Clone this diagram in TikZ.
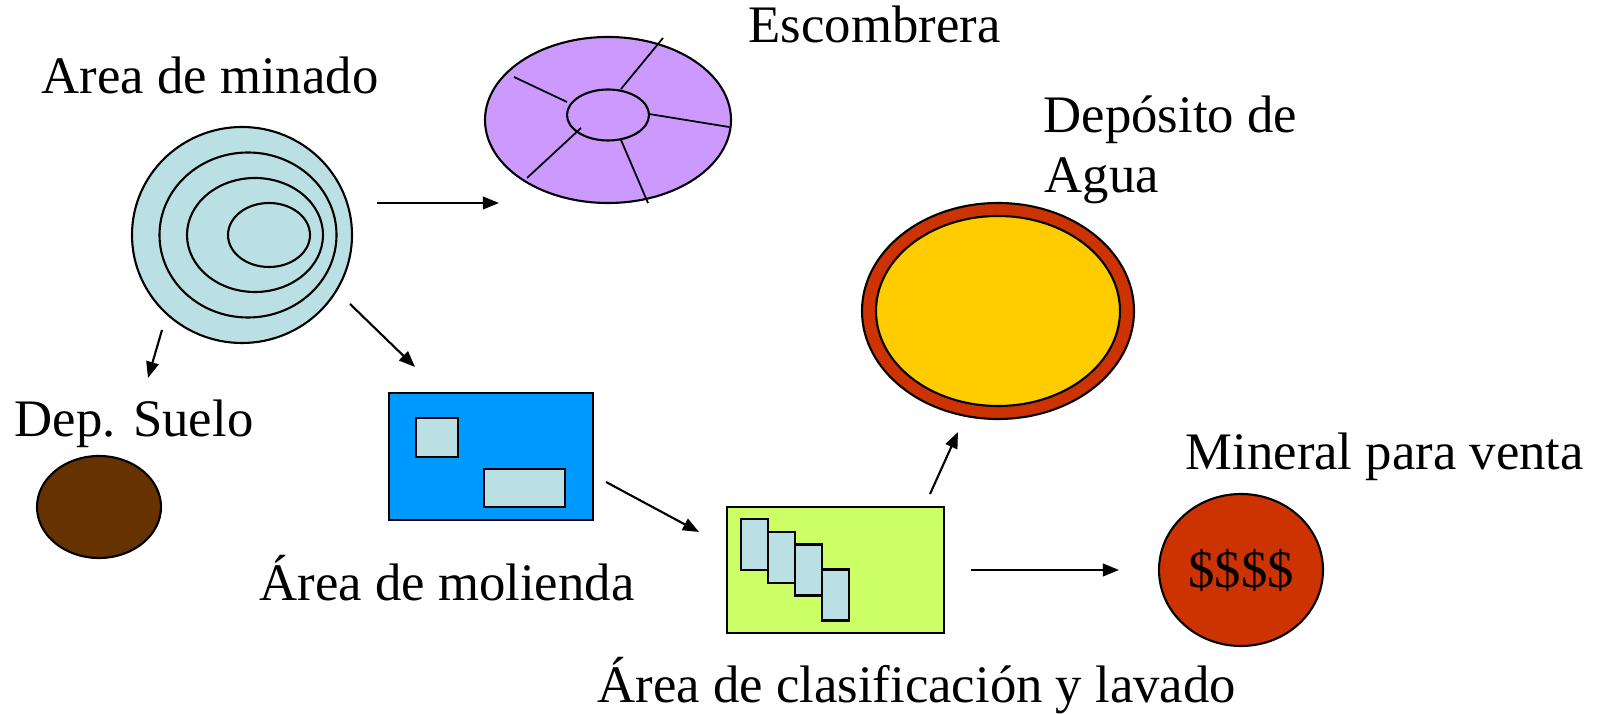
\documentclass[tikz,border=0pt]{standalone}
\usepackage{fontspec}
\setmainfont{Liberation Serif}
\usetikzlibrary{backgrounds,shapes,arrows.meta}
\pgfdeclarelayer{edgelayer}
\pgfdeclarelayer{nodelayer}
\pgfsetlayers{edgelayer,nodelayer,main}
\definecolor{minado}{RGB}{187,224,227}
\definecolor{escombro}{RGB}{204,153,255}
\definecolor{molino}{RGB}{0,153,255}
\definecolor{suelo}{RGB}{102,51,0}
\definecolor{lavado}{RGB}{204,255,102}
\definecolor{agua}{RGB}{255,204,0}
\definecolor{rojo}{RGB}{204,51,0}
\tikzset{font=\fontsize{15}{17}\selectfont}
\tikzstyle{none}=[inner sep=0pt]
\tikzstyle{txt}=[inner sep=0pt, anchor=base west]
\tikzstyle{flow}=[-{Triangle[length=4.6pt,width=3.6pt]}, line width=0.6pt]
\tikzstyle{spoke}=[line width=0.5pt]
\tikzstyle{oval}=[ellipse, draw, line width=0.6pt, inner sep=0pt]
\tikzstyle{box}=[rectangle, draw, line width=0.6pt, inner sep=0pt]
\tikzstyle{ring1}=[oval, fill=minado, minimum width=2.20cm, minimum height=2.16cm]
\tikzstyle{ring2}=[oval, fill=minado, minimum width=1.77cm, minimum height=1.65cm]
\tikzstyle{ring3}=[oval, fill=minado, minimum width=1.36cm, minimum height=1.14cm]
\tikzstyle{ring4}=[oval, fill=minado, minimum width=0.82cm, minimum height=0.64cm]
\tikzstyle{pile}=[oval, fill=escombro, minimum width=2.46cm, minimum height=1.66cm]
\tikzstyle{pilecore}=[oval, fill=escombro, minimum width=0.82cm, minimum height=0.51cm]
\tikzstyle{pond}=[oval, fill=rojo, minimum width=2.72cm, minimum height=2.16cm]
\tikzstyle{water}=[oval, fill=agua, minimum width=2.44cm, minimum height=1.90cm]
\tikzstyle{soil}=[oval, fill=suelo, minimum width=1.24cm, minimum height=1.02cm]
\tikzstyle{sale}=[oval, fill=rojo, minimum width=1.64cm, minimum height=1.52cm]
\tikzstyle{mill}=[box, fill=molino, minimum width=2.04cm, minimum height=1.27cm]
\tikzstyle{wash}=[box, fill=lavado, minimum width=2.17cm, minimum height=1.26cm]
\tikzstyle{part}=[box, fill=minado]
\tikzstyle{screen}=[box, fill=minado, minimum width=0.27cm, minimum height=0.51cm]

\begin{document}
\begin{tikzpicture}
	\useasboundingbox (0, 0) rectangle (16.06, -7.14);
	\begin{pgfonlayer}{nodelayer}
		\node [style=ring1] (0) at (2.42, -2.35) {};
		\node [style=ring2] (1) at (2.48, -2.35) {};
		\node [style=ring3] (2) at (2.55, -2.35) {};
		\node [style=ring4] (3) at (2.69, -2.35) {};
		\node [style=pile] (4) at (6.08, -1.20) {};
		\node [style=pilecore] (5) at (6.08, -1.15) {};
		\node [style=pond] (6) at (9.98, -3.11) {};
		\node [style=water] (7) at (9.98, -3.11) {};
		\node [style=soil] (8) at (0.99, -5.07) {};
		\node [style=mill] (9) at (4.91, -4.565) {};
		\node [style=part, minimum width=0.42cm, minimum height=0.39cm] (10) at (4.37, -4.375) {};
		\node [style=part, minimum width=0.81cm, minimum height=0.38cm] (11) at (5.245, -4.88) {};
		\node [style=wash] (12) at (8.355, -5.70) {};
		\node [style=screen] (13) at (7.545, -5.445) {};
		\node [style=screen] (14) at (7.815, -5.575) {};
		\node [style=screen] (15) at (8.085, -5.70) {};
		\node [style=screen] (16) at (8.355, -5.95) {};
		\node [style=sale] (17) at (12.41, -5.70) {\$\$\$\$};
		\node [style=txt] (18) at (7.48, -0.43) {Escombrera};
		\node [style=txt] (19) at (0.41, -0.94) {Area de minado};
		\node [style=txt] (20) at (10.43, -1.33) {Depósito de};
		\node [style=txt] (21) at (10.44, -1.93) {Agua};
		\node [style=txt] (22) at (0.14, -4.37) {Dep. Suelo};
		\node [style=txt] (23) at (2.59, -6.01) {Área de molienda};
		\node [style=txt] (24) at (5.97, -7.02) {Área de clasificación y lavado};
		\node [style=txt] (25) at (11.85, -4.70) {Mineral para venta};
		\node [style=none] (26) at (3.77, -2.03) {};
		\node [style=none] (27) at (4.99, -2.03) {};
		\node [style=none] (28) at (3.50, -3.04) {};
		\node [style=none] (29) at (4.15, -3.67) {};
		\node [style=none] (30) at (1.62, -3.30) {};
		\node [style=none] (31) at (1.48, -3.78) {};
		\node [style=none] (32) at (6.06, -4.82) {};
		\node [style=none] (33) at (6.99, -5.32) {};
		\node [style=none] (34) at (9.30, -4.94) {};
		\node [style=none] (35) at (9.58, -4.32) {};
		\node [style=none] (36) at (9.71, -5.70) {};
		\node [style=none] (37) at (11.19, -5.70) {};
		\node [style=none] (38) at (6.21, -0.89) {};
		\node [style=none] (39) at (6.63, -0.38) {};
		\node [style=none] (40) at (5.67, -1.02) {};
		\node [style=none] (41) at (5.14, -0.77) {};
		\node [style=none] (42) at (6.49, -1.14) {};
		\node [style=none] (43) at (7.29, -1.27) {};
		\node [style=none] (44) at (5.81, -1.28) {};
		\node [style=none] (45) at (5.27, -1.78) {};
		\node [style=none] (46) at (6.21, -1.40) {};
		\node [style=none] (47) at (6.48, -2.03) {};
	\end{pgfonlayer}
	\begin{pgfonlayer}{edgelayer}
		\draw [style=flow] (26.center) to (27.center);
		\draw [style=flow] (28.center) to (29.center);
		\draw [style=flow] (30.center) to (31.center);
		\draw [style=flow] (32.center) to (33.center);
		\draw [style=flow] (34.center) to (35.center);
		\draw [style=flow] (36.center) to (37.center);
	\end{pgfonlayer}
	\draw [style=spoke] (38.center) to (39.center);
	\draw [style=spoke] (40.center) to (41.center);
	\draw [style=spoke] (42.center) to (43.center);
	\draw [style=spoke] (44.center) to (45.center);
	\draw [style=spoke] (46.center) to (47.center);
\end{tikzpicture}
\end{document}
